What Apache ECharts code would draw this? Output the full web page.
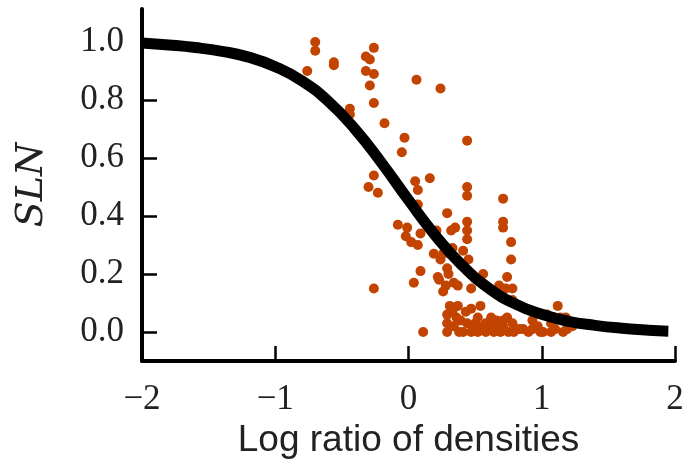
<!DOCTYPE html>
<html>
<head>
<meta charset="utf-8">
<script src="https://cdn.jsdelivr.net/npm/echarts@6/dist/echarts.min.js"></script>
<style>html,body{margin:0;padding:0;background:#fff;}#c{width:686px;height:476px;}</style>
</head>
<body>
<div id="c"></div>
<script>
// Observed scatter points (log ratio of densities, SLN)
const scatterX = [
  -0.70,-0.70,-0.56,-0.56,-0.76,-0.26,-0.32,-0.29,-0.32,-0.26,
  -0.29,-0.26,-0.44,-0.44,-0.18, 0.06, 0.24,-0.03,-0.05, 0.44,
   0.05, 0.07, 0.16, 0.44, 0.44,-0.26,-0.30,-0.23, 0.07, 0.71,
   0.29,-0.08,-0.01,-0.02, 0.02, 0.07, 0.09, 0.21, 0.32, 0.35,
   0.44, 0.44, 0.44, 0.71, 0.71, 0.41, 0.77, 0.19, 0.24, 0.33,
   0.09, 0.29, 0.45, 0.77, 0.26, 0.22, 0.30, 0.34, 0.56, 0.74,
   0.28, 0.37, 0.47, 0.68, 0.73,-0.26, 0.04, 0.23, 0.26, 0.78,
   0.71, 0.78, 0.11, 0.31, 0.37, 0.43, 0.39, 0.47, 0.29, 0.29,
   0.29, 0.34, 0.38, 0.44, 0.47, 0.41, 0.52, 0.52, 0.52, 0.58,
   0.58, 0.62, 0.64, 0.69, 0.75, 0.71, 0.74, 0.60, 0.65, 0.54,
   0.71, 0.78, 0.79, 0.83, 0.86, 0.93, 0.93, 0.99, 1.07, 1.07,
   1.12, 1.09, 1.14, 1.18, 1.10, 1.16, 1.19, 1.19, 1.04, 1.01,
   1.23, 0.36, 0.50, 0.56, 0.62, 0.66, 0.33, 0.48, 0.90, 0.97
];
const scatterY = [
   1.00, 0.97, 0.93, 0.92, 0.90, 0.98, 0.95, 0.94, 0.90, 0.89,
   0.85, 0.79, 0.77, 0.75, 0.72, 0.87, 0.84, 0.67, 0.62, 0.66,
   0.52, 0.49, 0.53, 0.50, 0.47, 0.54, 0.50, 0.48, 0.44, 0.46,
   0.41, 0.37, 0.36, 0.33, 0.31, 0.30, 0.34, 0.35, 0.35, 0.36,
   0.38, 0.35, 0.32, 0.38, 0.36, 0.28, 0.31, 0.27, 0.25, 0.29,
   0.21, 0.22, 0.25, 0.25, 0.27, 0.19, 0.20, 0.17, 0.20, 0.19,
   0.16, 0.16, 0.15, 0.16, 0.15, 0.15, 0.17, 0.18, 0.14, 0.15,
   0.12, 0.11, 0.00, 0.09, 0.09, 0.07, 0.04, 0.08, 0.06, 0.03,
   0.00, 0.02, 0.00, 0.03, 0.00, 0.00, 0.05, 0.02, 0.00, 0.03,
   0.00, 0.05, 0.00, 0.00, 0.00, 0.02, 0.05, 0.02, 0.02, 0.09,
   0.04, 0.03, 0.00, 0.01, 0.01, 0.04, 0.01, 0.00, 0.03, 0.00,
   0.09, 0.05, 0.05, 0.05, 0.01, 0.00, 0.01, 0.03, 0.06, 0.00,
   0.02, 0.05, 0.03, 0.02, 0.01, 0.04, 0.07, 0.02, 0.00, 0.02
];
// Fitted curve
const curveX = [-2.0,-1.8,-1.6,-1.4,-1.2,-1.0,-0.8,-0.6,-0.4,-0.2,0.0,0.2,0.4,0.6,0.8,1.0,1.2,1.4,1.6,1.8,1.95];
const curveY = [0.997,0.990,0.981,0.968,0.948,0.915,0.866,0.795,0.699,0.582,0.455,0.334,0.231,0.152,0.097,0.061,0.037,0.023,0.013,0.006,0.003];
// Tick labels
const yTicks = [0.0, 0.2, 0.4, 0.6, 0.8, 1.0];
const xTickMin = -2, xTickMax = 2, xTickStep = 1;
const xTitle = 'Log ratio of densities';
const yTitle = 'SLN';

const scatterData = scatterX.map((x, i) => [x, scatterY[i]]);
const curveData = curveX.map((x, i) => [x, curveY[i]]);

const chart = echarts.init(document.getElementById('c'), null, {renderer: 'canvas'});
chart.setOption({
  animation: false,
  backgroundColor: '#ffffff',
  grid: {left: 142, right: 11, top: 9, bottom: 115, containLabel: false, outerBoundsMode: 'none'},
  xAxis: {
    type: 'value', min: xTickMin, max: xTickMax, interval: xTickStep,
    name: xTitle, nameLocation: 'middle', nameGap: 61,
    nameTextStyle: {fontFamily: 'Liberation Sans', fontSize: 37, color: '#222'},
    axisLine: {onZero: false, lineStyle: {color: '#000', width: 4}},
    axisTick: {inside: true, length: 15, lineStyle: {color: '#000', width: 2.5}},
    axisLabel: {fontFamily: 'Liberation Serif', fontSize: 35, color: '#222', margin: 21,
      formatter: v => String(v).replace('-', '\u2212')},
    splitLine: {show: false}
  },
  yAxis: {
    type: 'value', min: -0.1, max: 1.114,
    name: yTitle, nameLocation: 'middle', nameGap: 91, nameRotate: 90,
    nameTextStyle: {fontFamily: 'DejaVu Serif', fontStyle: 'italic', fontSize: 38, color: '#222'},
    axisLine: {onZero: false, lineStyle: {color: '#000', width: 4}},
    axisTick: {inside: true, length: 15, customValues: yTicks, lineStyle: {color: '#000', width: 2.5}},
    axisLabel: {fontFamily: 'Liberation Serif', fontSize: 35, color: '#222', margin: 18,
      customValues: yTicks, formatter: v => Number(v).toFixed(1)},
    splitLine: {show: false}
  },
  series: [
    {type: 'scatter', data: scatterData, symbolSize: 10, z: 2,
     itemStyle: {color: '#c24400', opacity: 1}},
    {type: 'line', data: curveData, smooth: true, showSymbol: false, z: 3,
     lineStyle: {color: '#000', width: 11}}
  ]
});
</script>
</body>
</html>
